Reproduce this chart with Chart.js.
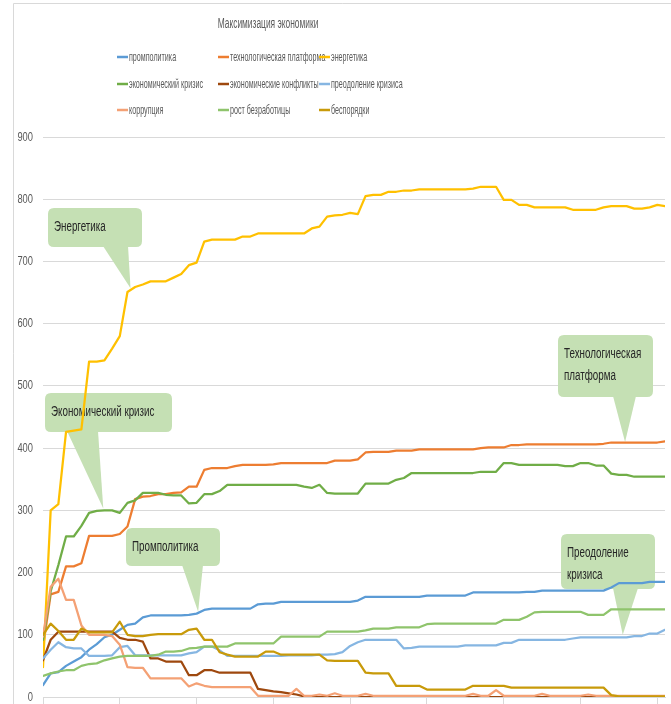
<!DOCTYPE html>
<html lang="ru">
<head>
<meta charset="utf-8">
<title>Максимизация экономики</title>
<script src="https://cdn.jsdelivr.net/npm/chart.js@4.4.1/dist/chart.umd.min.js"></script>
<style>
  html, body { margin: 0; padding: 0; background: #fff; }
  #wrap { width: 671px; height: 704px; }
</style>
</head>
<body>
<div id="wrap"><canvas id="chart" width="671" height="704"></canvas></div>
<script>
// step index along the x axis (no labels are shown, only tick marks every 10 steps)
const steps = Array.from({ length: 82 }, (_, i) => i);

const seriesNames = [
  'промполитика', 'технологическая платформа', 'энергетика',
  'экономический кризис', 'экономические конфликты', 'преодоление кризиса',
  'коррупция', 'рост безработицы', 'беспорядки',
];

const promPolitika = [
  19, 38, 40, 50, 57, 64, 76, 85, 96, 100,
  108, 116, 118, 128, 131, 131, 131, 131, 131, 132,
  134, 140, 142, 142, 142, 142, 142, 142, 149, 150,
  150, 153, 153, 153, 153, 153, 153, 153, 153, 153,
  153, 155, 161, 161, 161, 161, 161, 161, 161, 161,
  163, 163, 163, 163, 163, 163, 168, 168, 168, 168,
  168, 168, 168, 169, 169, 171, 171, 171, 171, 171,
  171, 171, 171, 171, 176, 183, 183, 183, 183, 185,
  185, 185,
];
const techPlatform = [
  80, 165, 169, 210, 210, 215, 259, 259, 259, 259,
  262, 274, 318, 322, 323, 326, 326, 328, 329, 338,
  338, 365, 368, 368, 368, 371, 373, 373, 373, 373,
  374, 376, 376, 376, 376, 376, 376, 376, 380, 380,
  380, 382, 393, 394, 394, 394, 396, 396, 396, 398,
  398, 398, 398, 398, 398, 398, 398, 400, 401, 401,
  401, 405, 405, 406, 406, 406, 406, 406, 406, 406,
  406, 406, 406, 407, 409, 409, 409, 409, 409, 409,
  409, 411,
];
const energetika = [
  48, 300, 310, 426, 428, 430, 539, 539, 541, 560,
  580, 651, 659, 663, 668, 668, 668, 674, 680, 694,
  698, 732, 735, 735, 735, 735, 740, 740, 745, 745,
  745, 745, 745, 745, 745, 753, 756, 772, 774, 775,
  778, 776, 805, 807, 807, 812, 812, 814, 814, 816,
  816, 816, 816, 816, 816, 816, 817, 820, 820, 820,
  799, 799, 791, 791, 787, 787, 787, 787, 787, 783,
  783, 783, 783, 787, 789, 789, 789, 785, 785, 787,
  791, 789,
];
const econCrisis = [
  92, 170, 212, 258, 258, 275, 296, 299, 300, 300,
  296, 312, 316, 328, 328, 328, 325, 324, 324, 311,
  312, 326, 326, 331, 341, 341, 341, 341, 341, 341,
  341, 341, 341, 341, 338, 336, 341, 328, 327, 327,
  327, 327, 343, 343, 343, 343, 349, 352, 360, 360,
  360, 360, 360, 360, 360, 360, 360, 362, 362, 362,
  376, 376, 373, 373, 373, 373, 373, 373, 371, 371,
  376, 376, 372, 372, 359, 357, 357, 354, 354, 354,
  354, 354,
];
const econConflicts = [
  59, 92, 105, 105, 105, 105, 105, 105, 105, 105,
  95, 92, 92, 89, 62, 62, 57, 57, 57, 35,
  35, 43, 43, 39, 39, 39, 39, 39, 13, 11,
  9, 8, 6, 4, 1, 0, 0, 0, 0, 0,
  0, 0, 0, 0, 0, 0, 0, 0, 0, 0,
  0, 0, 0, 0, 0, 0, 0, 0, 0, 0,
  0, 0, 0, 0, 0, 0, 0, 0, 0, 0,
  0, 0, 0, 0, 0, 0, 0, 0, 0, 0,
  0, 0,
];
const crisisRecovery = [
  62, 76, 88, 80, 78, 78, 66, 66, 66, 67,
  80, 82, 67, 67, 67, 67, 67, 67, 67, 70,
  72, 81, 81, 75, 66, 66, 66, 66, 66, 66,
  66, 66, 67, 67, 67, 67, 68, 68, 69, 72,
  82, 88, 92, 92, 92, 92, 92, 78, 79, 81,
  81, 81, 81, 81, 81, 83, 83, 83, 83, 83,
  87, 87, 92, 92, 92, 92, 92, 92, 92, 94,
  96, 96, 96, 96, 96, 96, 96, 98, 98, 102,
  102, 108,
];
const corruption = [
  97, 177, 190, 156, 156, 115, 100, 100, 100, 98,
  84, 48, 47, 47, 30, 30, 30, 30, 30, 17,
  22, 18, 16, 16, 16, 16, 16, 16, 2, 2,
  2, 2, 2, 13, 2, 2, 4, 2, 6, 2,
  2, 2, 5, 2, 2, 2, 2, 2, 2, 2,
  2, 2, 2, 2, 2, 2, 5, 2, 2, 11,
  2, 2, 2, 2, 2, 5, 2, 2, 2, 2,
  2, 4, 2, 2, 2, 2, 2, 2, 2, 2,
  2, 2,
];
const unemployment = [
  34, 38, 41, 43, 43, 50, 53, 54, 59, 62,
  65, 66, 66, 66, 66, 68, 73, 73, 74, 78,
  79, 81, 81, 81, 81, 86, 86, 86, 86, 86,
  86, 97, 97, 97, 97, 97, 97, 105, 105, 105,
  105, 105, 107, 110, 110, 110, 112, 112, 112, 112,
  117, 118, 118, 118, 118, 118, 118, 118, 118, 118,
  124, 124, 124, 129, 136, 137, 137, 137, 137, 137,
  137, 132, 132, 132, 141, 141, 141, 141, 141, 141,
  141, 141,
];
const riots = [
  100, 118, 106, 92, 92, 110, 104, 104, 104, 104,
  121, 100, 98, 98, 100, 101, 101, 101, 101, 108,
  110, 92, 92, 72, 68, 65, 65, 65, 65, 73,
  73, 68, 68, 68, 68, 68, 68, 59, 58, 58,
  58, 58, 39, 38, 38, 38, 18, 18, 18, 18,
  12, 12, 12, 12, 12, 12, 18, 18, 18, 18,
  18, 15, 15, 15, 15, 15, 15, 15, 15, 15,
  15, 15, 15, 15, 3, 1, 1, 1, 1, 1,
  1, 1,
];

const yMax = 900;
const yStep = 100;
const xTickStep = 10;

const seriesData = [promPolitika, techPlatform, energetika, econCrisis, econConflicts,
  crisisRecovery, corruption, unemployment, riots];
const seriesColors = ['#5B9BD5', '#ED7D31', '#FFC000', '#70AD47', '#9E480E',
  '#86B6E2', '#F4A175', '#8FC46C', '#C89A0A'];

// callouts: anchor in data units (step, value), box and pointer base in pixels
const callouts = [
  { lines: ['Энергетика'], at: [11.4, 657], box: [48, 208, 94, 39], base: [103, 128] },
  { lines: ['Экономический кризис'], at: [7.85, 303], box: [45, 393, 127, 39], base: [67, 98] },
  { lines: ['Промполитика'], at: [20.2, 137], box: [126, 528, 94, 38], base: [182, 203] },
  { lines: ['Технологическая', 'платформа'], at: [75.8, 410], box: [558, 335, 95, 62], base: [613, 636] },
  { lines: ['Преодоление', 'кризиса'], at: [75.5, 100], box: [561, 534, 94, 55], base: [613, 638] },
];

const TEXT_FONT = "'Liberation Sans', Arial, sans-serif";

function squeezedText(ctx, text, x, y, sx, align) {
  ctx.save();
  ctx.translate(x, y);
  ctx.scale(sx, 1);
  ctx.textAlign = align || 'left';
  ctx.textBaseline = 'middle';
  ctx.fillText(text, 0, 0);
  ctx.restore();
}

function roundRectPath(ctx, x, y, w, h, r) {
  ctx.moveTo(x + r, y);
  ctx.lineTo(x + w - r, y);
  ctx.quadraticCurveTo(x + w, y, x + w, y + r);
  ctx.lineTo(x + w, y + h - r);
  ctx.quadraticCurveTo(x + w, y + h, x + w - r, y + h);
  ctx.lineTo(x + r, y + h);
  ctx.quadraticCurveTo(x, y + h, x, y + h - r);
  ctx.lineTo(x, y + r);
  ctx.quadraticCurveTo(x, y, x + r, y);
  ctx.closePath();
}

const decor = {
  id: 'decor',
  beforeDraw(chart) {
    const ctx = chart.ctx;
    ctx.save();
    // frame of the original picture (left and top edges only are visible)
    ctx.strokeStyle = '#d9d9d9';
    ctx.lineWidth = 1;
    ctx.beginPath();
    ctx.moveTo(13.5, 704);
    ctx.lineTo(13.5, 3.5);
    ctx.lineTo(671, 3.5);
    ctx.stroke();

    ctx.fillStyle = '#595959';
    ctx.font = `14px ${TEXT_FONT}`;
    squeezedText(ctx, 'Максимизация экономики', 268, 24, 0.6, 'center');

    // legend in a 3x3 grid
    const colX = [117, 218, 319];
    const rowY = [57, 84, 110];
    ctx.font = `13px ${TEXT_FONT}`;
    chart.data.datasets.forEach((ds, i) => {
      const x = colX[i % 3];
      const y = rowY[Math.floor(i / 3)];
      ctx.strokeStyle = ds.borderColor;
      ctx.lineWidth = 2.5;
      ctx.beginPath();
      ctx.moveTo(x, y);
      ctx.lineTo(x + 11, y);
      ctx.stroke();
      ctx.fillStyle = '#595959';
      squeezedText(ctx, ds.label, x + 12, y, 0.55);
    });

    // y tick labels, placed by the y scale, in the squeezed face of the original
    const ys = chart.scales.y;
    ctx.font = `13px ${TEXT_FONT}`;
    ys.ticks.forEach((t) => {
      squeezedText(ctx, String(t.value), ys.right - 10, ys.getPixelForValue(t.value), 0.72, 'right');
    });
    ctx.restore();
  },
  beforeDatasetsDraw(chart) {
    const ctx = chart.ctx;
    const xs = chart.scales.x;
    const ys = chart.scales.y;
    ctx.save();
    callouts.forEach((c) => {
      const tipX = xs.getPixelForValue(c.at[0]);
      const tipY = ys.getPixelForValue(c.at[1]);
      const [bx, by, bw, bh] = c.box;
      const baseY = tipY > by ? by + bh - 1 : by + 1;
      ctx.fillStyle = '#C5E0B4';
      ctx.beginPath();
      roundRectPath(ctx, bx, by, bw, bh, 6);
      ctx.fill();
      ctx.beginPath();
      ctx.moveTo(c.base[0], baseY);
      ctx.lineTo(tipX, tipY);
      ctx.lineTo(c.base[1], baseY);
      ctx.closePath();
      ctx.fill();
      ctx.fillStyle = '#262626';
      ctx.font = `14px ${TEXT_FONT}`;
      c.lines.forEach((line, k) => {
        squeezedText(ctx, line, bx + 6, by + 19 + k * 22, 0.7);
      });
    });
    ctx.restore();
  },
};

new Chart(document.getElementById('chart'), {
  type: 'line',
  data: {
    labels: steps,
    datasets: seriesNames.map((name, i) => ({
      label: name,
      data: seriesData[i],
      borderColor: seriesColors[i],
      backgroundColor: seriesColors[i],
      borderWidth: 2.25,
      pointRadius: 0,
      tension: 0,
      fill: false,
      borderJoinStyle: 'round',
      borderCapStyle: 'round',
      order: -i,
    })),
  },
  options: {
    responsive: false,
    animation: false,
    layout: { padding: { top: 137, left: 13, right: 6, bottom: 0 } },
    plugins: {
      legend: { display: false },
      title: { display: false },
      tooltip: { enabled: false },
    },
    scales: {
      x: {
        type: 'linear',
        min: 0,
        max: steps.length - 1,
        ticks: { display: false, stepSize: xTickStep, includeBounds: false },
        grid: { drawOnChartArea: false, tickLength: 7, color: '#d9d9d9' },
        border: { color: '#d9d9d9' },
      },
      y: {
        min: 0,
        max: yMax,
        ticks: { display: false, stepSize: yStep },
        grid: { color: '#d9d9d9', drawTicks: false },
        border: { display: false },
        afterFit(scale) { scale.width = 30; },
      },
    },
  },
  plugins: [decor],
});
</script>
</body>
</html>
